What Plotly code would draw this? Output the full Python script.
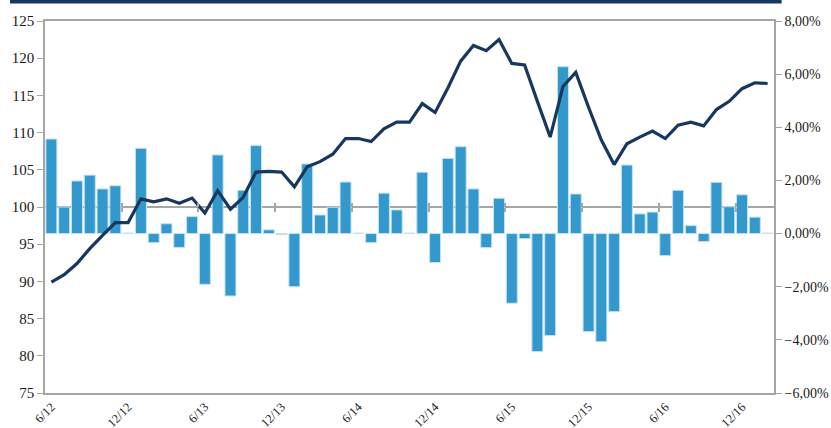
import plotly.graph_objects as go

# ---- data ----
months = []
for y in range(2012, 2018):
    for m in range(1, 13):
        if (y == 2012 and m < 6) or (y == 2017 and m > 2):
            continue
        months.append(f"{m}/{str(y)[2:]}")

monthly_change_pct = [
    3.56, 1.00, 1.98, 2.20, 1.68, 1.80, 0.02, 3.21, -0.34, 0.37,
    -0.52, 0.64, -1.91, 2.96, -2.35, 1.63, 3.31, 0.14, -0.04, -2.00,
    2.62, 0.70, 0.99, 1.94, 0.02, -0.34, 1.52, 0.89, 0.02, 2.31,
    -1.09, 2.83, 3.27, 1.68, -0.53, 1.33, -2.62, -0.19, -4.44, -3.84,
    6.28, 1.49, -3.69, -4.07, -2.94, 2.58, 0.74, 0.81, -0.83, 1.63,
    0.30, -0.30, 1.93, 1.01, 1.46, 0.62, 0.02,
]

index_level = [
    89.9, 90.9, 92.4, 94.4, 96.2, 97.9, 97.9, 101.1, 100.7, 101.1,
    100.5, 101.2, 99.2, 102.2, 99.7, 101.3, 104.7, 104.8, 104.7, 102.7,
    105.4, 106.1, 107.1, 109.2, 109.2, 108.8, 110.5, 111.4, 111.4, 113.9,
    112.7, 116.0, 119.6, 121.7, 121.0, 122.5, 119.3, 119.1, 114.2, 109.4,
    116.2, 118.1, 113.4, 109.0, 105.7, 108.5, 109.4, 110.2, 109.2, 111.0,
    111.4, 110.9, 113.1, 114.2, 115.9, 116.7, 116.6,
]

tick_labels = ["6/12", "12/12", "6/13", "12/13", "6/14", "12/14", "6/15", "12/15", "6/16", "12/16"]

# ---- styles ----
FONT = "Liberation Serif, Times New Roman, serif"
BAR_COLOR = "#3399CC"
LINE_COLOR = "#17375E"
AXIS_GRAY = "#A6A6A6"
TEXT = "#1a1a1a"

n = len(months)
fig = go.Figure()

# bars on the percent axis (primary y, shown on the right)
fig.add_trace(go.Bar(
    x=months, y=[v / 100 for v in monthly_change_pct],
    marker=dict(color=BAR_COLOR, line=dict(color="#C6E2F2", width=1)),
    yaxis="y", showlegend=False,
))

# line on the index axis (overlay y2, shown on the left) -> drawn above bars
fig.add_trace(go.Scatter(
    x=months, y=index_level, mode="lines",
    line=dict(color=LINE_COLOR, width=3.2), yaxis="y2", showlegend=False,
))

boundary_ticks = [i - 0.5 for i in range(6, n, 6)]

fig.update_layout(
    width=831, height=428,
    margin=dict(l=45, r=57, t=21, b=35, autoexpand=False),
    paper_bgcolor="white", plot_bgcolor="white",
    separators=",.",
    bargap=0.14,
    font=dict(family=FONT, size=14, color=TEXT),
    xaxis=dict(
        type="category", categoryorder="array", categoryarray=months,
        range=[-0.5, n - 0.5], automargin=False,
        tickmode="array", tickvals=tick_labels, ticktext=tick_labels,
        tickangle=-45, tickfont=dict(family=FONT, size=12.5, color=TEXT),
        showline=True, linecolor=AXIS_GRAY, linewidth=1.5, mirror=True,
        ticks="", showgrid=False, zeroline=False,
    ),
    xaxis2=dict(
        overlaying="x", anchor="free", position=0.5, range=[-0.5, n - 0.5],
        tickmode="array", tickvals=boundary_ticks, ticks="outside", ticklen=4,
        tickcolor=AXIS_GRAY, tickwidth=1.5, showticklabels=False, automargin=False,
        showline=False, showgrid=False, zeroline=False,
    ),
    xaxis3=dict(
        overlaying="x", anchor="free", position=0.5, range=[-0.5, n - 0.5],
        tickmode="array", tickvals=boundary_ticks, ticks="inside", ticklen=4,
        tickcolor=AXIS_GRAY, tickwidth=1.5, showticklabels=False, automargin=False,
        showline=False, showgrid=False, zeroline=False,
    ),
    yaxis=dict(
        range=[-0.06, 0.08], dtick=0.02, tickformat=".2%",
        side="right", ticks="outside", ticklen=6, tickcolor=AXIS_GRAY,
        showline=True, linecolor=AXIS_GRAY, linewidth=1.5, automargin=False,
        showgrid=False, zeroline=False, tickfont=dict(family=FONT, size=14, color=TEXT),
    ),
    yaxis2=dict(
        range=[75, 125], dtick=5, overlaying="y", side="left",
        ticks="outside", ticklen=6, automargin=False,
        tickcolor=AXIS_GRAY, showline=True, linecolor=AXIS_GRAY, linewidth=1.5,
        showgrid=False, zeroline=False, tickfont=dict(family=FONT, size=15, color=TEXT),
    ),
    shapes=[
        dict(type="line", xref="paper", yref="y2", x0=0, x1=1, y0=100, y1=100,
             line=dict(color=AXIS_GRAY, width=2), layer="below"),
        dict(type="rect", xref="paper", yref="paper",
             x0=-0.048, x1=1.0105, y0=1.047, y1=1.07,
             fillcolor=LINE_COLOR, line=dict(width=0), layer="above"),
    ],
)

# placeholder traces so the overlay tick axes render
fig.add_trace(go.Scatter(x=[None], y=[None], xaxis="x2", yaxis="y2", showlegend=False, hoverinfo="skip"))
fig.add_trace(go.Scatter(x=[None], y=[None], xaxis="x3", yaxis="y2", showlegend=False, hoverinfo="skip"))

fig.write_html(
    "out.html",
    config={"displayModeBar": False},
    post_script="document.body.style.margin='0';document.body.style.overflow='hidden';",
)
